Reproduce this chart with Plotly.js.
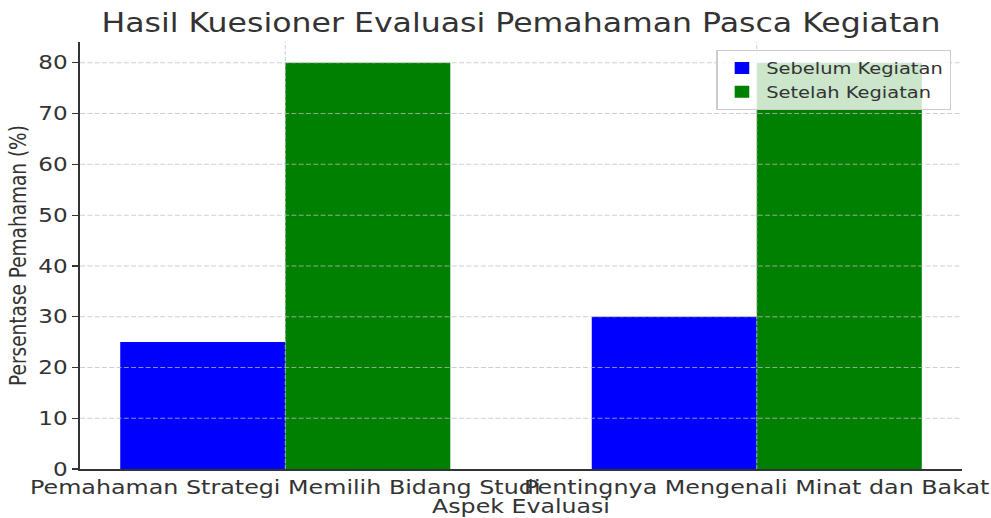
<!DOCTYPE html>
<html>
<head>
<meta charset="utf-8">
<script src="https://cdn.plot.ly/plotly-3.0.1.min.js"></script>
<style>
html,body{margin:0;padding:0;background:#fff;overflow:hidden;}
#wrap{width:991px;height:518px;overflow:hidden;}
#chart{width:816px;height:518px;transform:scaleX(1.2145);transform-origin:0 0;}
</style>
</head>
<body>
<div id="wrap"><div id="chart"></div></div>
<script>
const categories = ["Pemahaman Strategi Memilih Bidang Studi", "Pentingnya Mengenali Minat dan Bakat"];
const sebelum = [25, 30];
const setelah = [80, 80];
const seriesNames = ["Sebelum Kegiatan", "Setelah Kegiatan"];
const yTicks = [0, 10, 20, 30, 40, 50, 60, 70, 80];

const xIdx = categories.map((c, i) => i);
const barW = 0.35;
const txt = '#333333';
const font = 'DejaVu Sans, sans-serif';
const gridColor = 'rgba(190,190,190,0.75)';

const traces = [
  {type: 'bar', name: seriesNames[0], x: xIdx, y: sebelum, width: barW, offset: -barW,
   marker: {color: '#0000ff', line: {width: 0}}, hoverinfo: 'skip'},
  {type: 'bar', name: seriesNames[1], x: xIdx, y: setelah, width: barW, offset: 0,
   marker: {color: '#008000', line: {width: 0}}, hoverinfo: 'skip'}
];

// grid lines drawn above the bars, as in the reference
const shapes = [];
yTicks.filter(v => v > 0).forEach(v => shapes.push({type: 'line', layer: 'above', xref: 'paper', yref: 'y',
  x0: 0, x1: 1, y0: v, y1: v, line: {color: gridColor, width: 1, dash: '4px,2px'}}));
xIdx.forEach(v => shapes.push({type: 'line', layer: 'above', xref: 'x', yref: 'paper',
  x0: v, x1: v, y0: 0, y1: 1, line: {color: gridColor, width: 0.85, dash: '4px,2px'}}));

const axCommon = {showgrid: false, showline: true, linecolor: '#333333', linewidth: 1.5,
  ticks: 'outside', ticklen: 5, tickcolor: '#333333', tickwidth: 1.2, zeroline: false, layer: 'above traces'};

const layout = {
  width: 816, height: 518,
  margin: {l: 66, r: 24, t: 42, b: 49},
  paper_bgcolor: '#ffffff', plot_bgcolor: '#ffffff',
  showlegend: true, barmode: 'overlay',
  font: {family: font, color: txt},
  shapes: shapes,
  title: {text: 'Hasil Kuesioner Evaluasi Pemahaman Pasca Kegiatan', font: {size: 26, color: txt, family: font},
          x: 0.5, xref: 'paper', xanchor: 'center', y: 0.955, yref: 'container', yanchor: 'middle'},
  xaxis: Object.assign({}, axCommon, {
    range: [-0.435, 1.435], tickmode: 'array', tickvals: xIdx, ticktext: categories,
    tickfont: {size: 19.6, color: txt, family: font}, ticklen: 0, tickangle: 0,
    ticklabeloverflow: 'allow', automargin: false,
    title: {text: 'Aspek Evaluasi', font: {size: 19.5, color: txt, family: font}, standoff: 4}
  }),
  yaxis: Object.assign({}, axCommon, {
    range: [0, 84.1], tickmode: 'array', tickvals: yTicks,
    tickfont: {size: 19, color: txt, family: font}, automargin: false,
    title: {text: 'Persentase Pemahaman (%)', font: {size: 18.5, color: txt, family: font}, standoff: 4}
  }),
  legend: {x: 0.9875, xanchor: 'right', y: 0.981, yanchor: 'top', xref: 'paper', yref: 'paper',
    bgcolor: 'rgba(255,255,255,0.8)', bordercolor: '#cccccc', borderwidth: 1,
    font: {size: 16, color: txt, family: font}}
};

Plotly.newPlot('chart', traces, layout, {staticPlot: true, displayModeBar: false});
</script>
</body>
</html>
